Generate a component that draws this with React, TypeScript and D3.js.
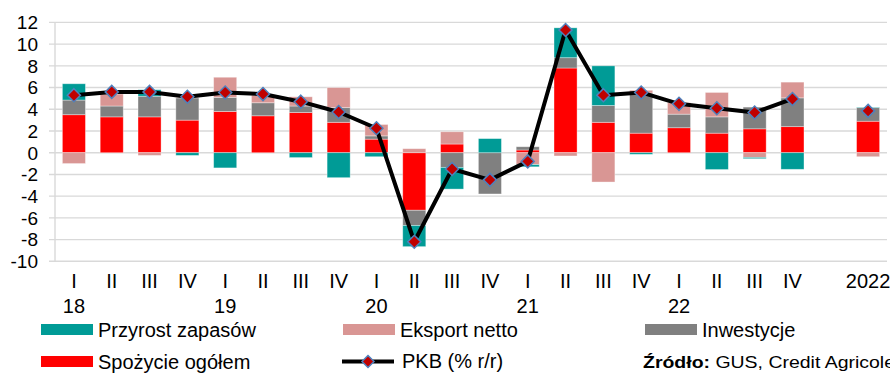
import React from "react";
import * as d3 from "d3";

const quarterLabels = ["I","II","III","IV","I","II","III","IV","I","II","III","IV","I","II","III","IV","I","II","III","IV","","2022"];
const yearLabels = ["18","","","","19","","","","20","","","","21","","","","22","","","","",""];

const spozycie = [3.5,3.3,3.3,3.0,3.8,3.4,3.7,2.8,1.25,-5.3,0.8,0.0,0.25,7.8,2.8,1.8,2.3,1.8,2.2,2.4,0,2.9];
const inwestycje = [1.35,1.0,1.9,2.05,1.3,1.2,0.6,1.35,0.3,-1.4,-1.35,-3.8,0.3,0.95,1.55,3.7,1.25,1.5,2.0,2.65,0,1.25];
const eksport = [-1.0,1.1,-0.25,0.05,1.85,0.7,0.85,1.85,1.05,0.37,1.13,0.0,-1.1,-0.3,-2.7,0.25,1.05,2.25,-0.43,1.45,0,-0.37];
const zapasy = [1.5,0.0,0.6,-0.25,-1.4,0.0,-0.45,-2.3,-0.37,-1.95,-2.0,1.3,-0.2,2.75,3.65,-0.15,0.0,-1.55,-0.12,-1.53,0,0.05];
const pkb: (number | null)[] = [5.3,5.6,5.6,5.15,5.55,5.4,4.7,3.75,2.25,-8.2,-1.5,-2.5,-0.8,11.3,5.3,5.55,4.5,4.1,3.7,4.95,null,3.85];

const yTicks = [-10,-8,-6,-4,-2,0,2,4,6,8,10,12];

const seriesKeys = ["spozycie","inwestycje","eksport","zapasy"];
const colors: Record<string,string> = {
  spozycie: "#FF0000",
  inwestycje: "#808080",
  eksport: "#D99694",
  zapasy: "#009B96",
};

const W = 890, H = 379;
const FONT = "'Liberation Sans', Arial, sans-serif";

export default function App() {
  const idx = quarterLabels.map((_, i) => i);
  const x = d3.scaleBand<number>().domain(idx).range([55, 887]).paddingInner(0.39).paddingOuter(0.195);
  const y = d3.scaleLinear().domain([-10, 12]).range([261.3, 22.4]);

  const table = idx.map(i => ({
    i,
    spozycie: spozycie[i],
    inwestycje: inwestycje[i],
    eksport: eksport[i],
    zapasy: zapasy[i],
  }));
  const stacked = d3.stack<any>().keys(seriesKeys).offset(d3.stackOffsetDiverging)(table);

  const cx = (i: number) => (x(i) as number) + x.bandwidth() / 2;
  const line = d3.line<number | null>()
    .defined(d => d != null)
    .x((_, i) => cx(i))
    .y(d => y(d as number));

  const diamond = (px: number, py: number, r = 6.5) =>
    `M${px},${py - r}L${px + r},${py}L${px},${py + r}L${px - r},${py}Z`;

  const legend = [
    { label: "Przyrost zapasów", color: colors.zapasy, x: 41, y: 324 },
    { label: "Eksport netto", color: colors.eksport, x: 343, y: 324 },
    { label: "Inwestycje", color: colors.inwestycje, x: 645, y: 324 },
    { label: "Spożycie ogółem", color: colors.spozycie, x: 41, y: 356 },
  ];

  return (
    <svg width={W} height={H} style={{ position: "absolute", left: 0, top: 0, background: "#fff" }} fontFamily={FONT}>
      {yTicks.map(t => (
        <line key={t} x1={49} x2={887} y1={y(t)} y2={y(t)} stroke="#D9D9D9" strokeWidth={1.4} />
      ))}
      <line x1={55} x2={55} y1={y(12)} y2={y(-10)} stroke="#D9D9D9" strokeWidth={1.4} />
      {yTicks.map(t => (
        <text key={t} x={38} y={y(t)} dy="0.36em" textAnchor="end" fontSize={19} fill="#000">{t}</text>
      ))}
      {stacked.map(s => (
        <g key={s.key} fill={colors[s.key]}>
          {s.map((d: any, i: number) => {
            const y0 = y(d[0]), y1 = y(d[1]);
            const h = Math.abs(y0 - y1);
            if (h < 0.01) return null;
            return (
              <rect key={i} x={x(i)} y={Math.min(y0, y1)} width={x.bandwidth()} height={h}
                stroke="#ffffff" strokeOpacity={0.45} strokeWidth={0.8} />
            );
          })}
        </g>
      ))}
      <path d={line(pkb) || ""} fill="none" stroke="#000" strokeWidth={4} strokeLinejoin="round" />
      {pkb.map((v, i) => v == null ? null : (
        <path key={i} d={diamond(cx(i), y(v))} fill="#C00000" stroke="#4F81BD" strokeWidth={1.5} />
      ))}
      {quarterLabels.map((q, i) => (
        <text key={"q" + i} x={cx(i)} y={288} textAnchor="middle" fontSize={20} fill="#000">{q}</text>
      ))}
      {yearLabels.map((yl, i) => yl ? (
        <text key={"y" + i} x={cx(i)} y={313} textAnchor="middle" fontSize={20} fill="#000">{yl}</text>
      ) : null)}
      {legend.map(l => (
        <g key={l.label}>
          <rect x={l.x} y={l.y} width={52} height={11} fill={l.color} />
          <text x={l.x + 57} y={l.y + 12.7} fontSize={20} fill="#000">{l.label}</text>
        </g>
      ))}
      <g>
        <line x1={342} x2={394} y1={361.5} y2={361.5} stroke="#000" strokeWidth={4} />
        <path d={diamond(368, 361.5, 6)} fill="#C00000" stroke="#4F81BD" strokeWidth={1.5} />
        <text x={402} y={368.3} fontSize={20} fill="#000">PKB (% r/r)</text>
      </g>
      <text x={643} y={368} fontSize={17} fill="#000" textLength={252} lengthAdjust="spacingAndGlyphs">
        <tspan fontWeight="bold">Źródło:</tspan>
        <tspan> GUS, Credit Agricole</tspan>
      </text>
    </svg>
  );
}
